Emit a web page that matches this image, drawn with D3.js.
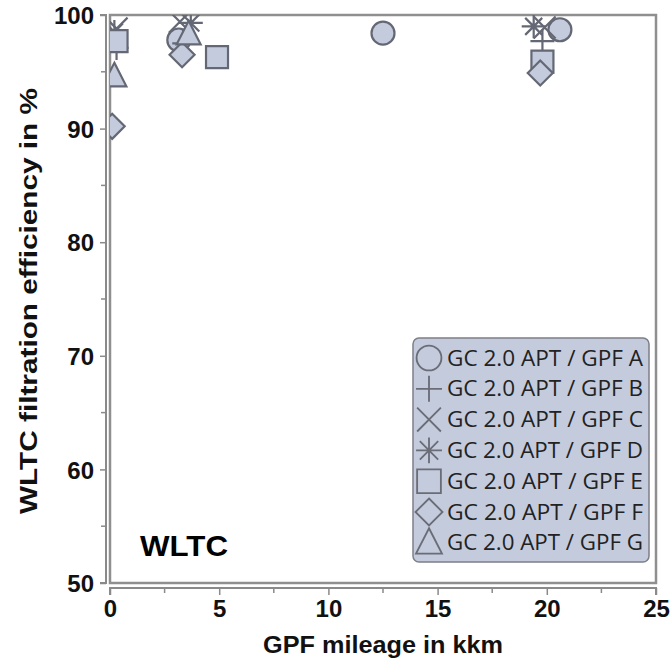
<!DOCTYPE html>
<html><head><meta charset="utf-8">
<script src="https://cdn.jsdelivr.net/npm/d3@7"></script>
<style>body{margin:0;background:#fff}svg{display:block}</style>
</head><body>
<script>
const seriesNames = ["GC 2.0 APT / GPF A","GC 2.0 APT / GPF B","GC 2.0 APT / GPF C","GC 2.0 APT / GPF D","GC 2.0 APT / GPF E","GC 2.0 APT / GPF F","GC 2.0 APT / GPF G"];
const seriesSymbols = ["circle","plus","cross","asterisk","square","diamond","triangle"];
const mileageA = [3.15, 12.5, 20.6];   const effA = [97.8, 98.4, 98.7];
const mileageB = [0.3, 3.4, 19.8];     const effB = [97.1, 97.5, 97.7];
const mileageC = [0.3, 3.2, 19.9];     const effC = [98.8, 99.4, 98.9];
const mileageD = [0.2, 3.7, 19.4];     const effD = [98.5, 99.3, 99.0];
const mileageE = [0.3, 4.9, 19.8];     const effE = [97.7, 96.3, 95.9];
const mileageF = [0.1, 3.3, 19.7];     const effF = [90.2, 96.5, 94.9];
const mileageG = [0.2, 3.6];           const effG = [94.6, 98.3];
const xTicks = [0,5,10,15,20,25];
const yTicks = [50,60,70,80,90,100];

const seriesX = [mileageA,mileageB,mileageC,mileageD,mileageE,mileageF,mileageG];
const seriesY = [effA,effB,effC,effD,effE,effF,effG];

const W=671,H=662;
const L=110,R=656,T=15,B=583;
const fill="#c4cbdd", stroke="#646874";
const FONT="Liberation Sans, Arial, sans-serif";
const svg=d3.select("body").append("svg").attr("width",W).attr("height",H);

const x=d3.scaleLinear().domain([0,25]).range([L,R]);
const y=d3.scaleLinear().domain([50,100]).range([B,T]);

function symPath(type){
  const p=d3.path();
  if(type==="circle"){p.arc(0,0,11.5,0,2*Math.PI);}
  else if(type==="square"){p.rect(-11,-11,22,22);}
  else if(type==="diamond"){p.moveTo(0,-12.5);p.lineTo(12.5,0);p.lineTo(0,12.5);p.lineTo(-12.5,0);p.closePath();}
  else if(type==="triangle"){p.moveTo(0,-13.5);p.lineTo(12,10);p.lineTo(-12,10);p.closePath();}
  else if(type==="plus"){p.moveTo(-12,0);p.lineTo(12,0);p.moveTo(0,-12);p.lineTo(0,12);}
  else if(type==="cross"){p.moveTo(-11,-11);p.lineTo(11,11);p.moveTo(11,-11);p.lineTo(-11,11);}
  else if(type==="asterisk"){p.moveTo(-12,0);p.lineTo(12,0);p.moveTo(0,-12);p.lineTo(0,12);p.moveTo(-8.5,-8.5);p.lineTo(8.5,8.5);p.moveTo(8.5,-8.5);p.lineTo(-8.5,8.5);}
  return p.toString();
}
const filled=t=>["circle","square","diamond","triangle"].includes(t);

svg.append("defs").append("clipPath").attr("id","clip").append("rect")
  .attr("x",L).attr("y",T).attr("width",R-L).attr("height",B-T);

// y axis
const yAxis=d3.axisLeft(y).tickValues(yTicks).tickSize(6).tickFormat(d3.format("d"));
const gy=svg.append("g").attr("transform",`translate(${L-4},0)`).call(yAxis);
gy.selectAll(".minor").data(d3.range(55,100,10)).enter().append("line").attr("class","minor")
  .attr("x1",-5).attr("x2",0).attr("y1",d=>y(d)).attr("y2",d=>y(d)).attr("stroke","#8a8a8a").attr("stroke-width",1.5);
gy.select(".domain").attr("stroke","#8a8a8a").attr("stroke-width",2).attr("d",`M-6,${T}H0V${B}H-6`);
gy.selectAll(".tick line").attr("stroke","#8a8a8a").attr("stroke-width",1.5);
gy.selectAll(".tick text").attr("font-family",FONT).attr("font-weight","bold")
  .attr("font-size",24).attr("fill","#111").attr("x",-12).attr("dy","0.36em");

// x axis
const xAxis=d3.axisBottom(x).tickValues(xTicks).tickSize(7).tickFormat(d3.format("d"));
const gx=svg.append("g").attr("transform",`translate(0,${B+5})`).call(xAxis);
gx.selectAll(".minor").data(d3.range(2.5,25,5)).enter().append("line").attr("class","minor")
  .attr("y1",0).attr("y2",5).attr("x1",d=>x(d)).attr("x2",d=>x(d)).attr("stroke","#8a8a8a").attr("stroke-width",1.5);
gx.select(".domain").attr("stroke","#8a8a8a").attr("stroke-width",2).attr("d",`M${L},7V0H${R}V7`);
gx.selectAll(".tick line").attr("stroke","#8a8a8a").attr("stroke-width",1.5);
gx.selectAll(".tick text").attr("font-family",FONT).attr("font-weight","bold")
  .attr("font-size",24).attr("fill","#111").attr("y",12).attr("dy","0.71em");

// frame
svg.append("rect").attr("x",L).attr("y",T).attr("width",R-L).attr("height",B-T)
  .attr("fill","none").attr("stroke","#8f8f8f").attr("stroke-width",2.5);

// axis titles
svg.append("text").attr("x",383).attr("y",653).attr("text-anchor","middle")
  .attr("font-family",FONT).attr("font-weight","bold").attr("font-size",23).attr("fill","#111")
  .attr("textLength",240).attr("lengthAdjust","spacingAndGlyphs")
  .text("GPF mileage in kkm");
svg.append("text").attr("transform","translate(37,301) rotate(-90)").attr("text-anchor","middle")
  .attr("font-family",FONT).attr("font-weight","bold").attr("font-size",23).attr("fill","#111")
  .attr("textLength",426).attr("lengthAdjust","spacingAndGlyphs")
  .text("WLTC filtration efficiency in %");

// WLTC label
svg.append("text").attr("x",140).attr("y",556)
  .attr("font-family",FONT).attr("font-weight","bold").attr("font-size",30).attr("fill","#000")
  .attr("textLength",88).attr("lengthAdjust","spacingAndGlyphs")
  .text("WLTC");

// points
const gp=svg.append("g").attr("clip-path","url(#clip)");
seriesNames.forEach((name,i)=>{
  const pts=seriesX[i].map((v,j)=>[v,seriesY[i][j]]);
  gp.selectAll(null).data(pts).enter().append("path")
    .attr("transform",d=>`translate(${x(d[0])},${y(d[1])})`)
    .attr("d",symPath(seriesSymbols[i]))
    .attr("fill",filled(seriesSymbols[i])?fill:"none")
    .attr("stroke",stroke).attr("stroke-width",2.2);
});

// legend
const lg=svg.append("g");
lg.append("rect").attr("x",413).attr("y",338).attr("width",236).attr("height",224).attr("rx",6)
  .attr("fill",fill).attr("stroke","#7d7f86").attr("stroke-width",1.5);
seriesNames.forEach((name,i)=>{
  const cy=358+i*30.8;
  lg.append("path").attr("transform",`translate(429,${cy}) scale(1.08)`).attr("d",symPath(seriesSymbols[i]))
    .attr("fill","none").attr("stroke","#6a6d76").attr("stroke-width",1.7);
  lg.append("text").attr("x",447).attr("y",cy).attr("dy","0.36em")
    .attr("font-family","Open Sans, Noto Sans, sans-serif").attr("font-size",21).attr("fill","#222")
    .attr("textLength",196).attr("lengthAdjust","spacingAndGlyphs")
    .text(name);
});
</script>
</body></html>
